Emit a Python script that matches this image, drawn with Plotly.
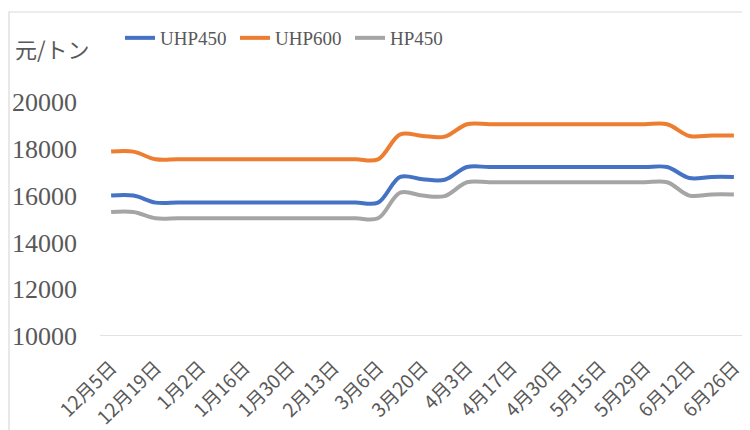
import plotly.graph_objects as go

dates = ["12月5日", "12月12日", "12月19日", "12月26日", "1月2日", "1月9日", "1月16日", "1月23日",
         "1月30日", "2月6日", "2月13日", "2月27日", "3月6日", "3月13日", "3月20日", "3月27日",
         "4月3日", "4月10日", "4月17日", "4月24日", "4月30日", "5月8日", "5月15日", "5月22日",
         "5月29日", "6月5日", "6月12日", "6月19日", "6月26日"]

uhp450 = [16000, 16000, 15700, 15700, 15700, 15700, 15700, 15700, 15700, 15700, 15700, 15700, 15700,
          16800, 16700, 16680, 17220, 17220, 17220, 17220, 17220, 17220, 17220, 17220, 17220, 17220,
          16750, 16800, 16800]
uhp600 = [17880, 17880, 17550, 17550, 17550, 17550, 17550, 17550, 17550, 17550, 17550, 17550, 17550,
          18620, 18550, 18520, 19050, 19050, 19050, 19050, 19050, 19050, 19050, 19050, 19050, 19050,
          18550, 18570, 18570]
hp450 = [15300, 15300, 15030, 15030, 15030, 15030, 15030, 15030, 15030, 15030, 15030, 15030, 15030,
         16130, 16000, 15980, 16570, 16570, 16570, 16570, 16570, 16570, 16570, 16570, 16570, 16570,
         16000, 16050, 16050]

tick_labels = dates[::2]
y_ticks = [10000, 12000, 14000, 16000, 18000, 20000]
y_tick_text = ["10000", "12000", "14000", "16000", "18000", "20000"]

series = [("UHP450", uhp450, "#4472C4"), ("UHP600", uhp600, "#ED7D31"), ("HP450", hp450, "#A5A5A5")]

fig = go.Figure()
for name, vals, color in series:
    fig.add_trace(go.Scatter(x=dates, y=vals, name=name, mode="lines",
                             line=dict(color=color, width=4, shape="spline", smoothing=1.0)))

# page body has an 8px margin: the figure sits at (8, 8) in the 750x430 window
OFF = 8
W, H = 750 - OFF, 430 - OFF
PL, PR, PT, PB = 100, 745, 102, 336  # plot area in window pixels
L, R, T, B = PL - OFF, 750 - PR, PT - OFF, 430 - PB
pw, ph = PR - PL, PB - PT

def px_x(p):
    return (p - PL) / pw

def px_y(p):
    return (PB - p) / ph

fig.update_layout(
    width=W, height=H,
    margin=dict(l=L, r=R, t=T, b=B, autoexpand=False),
    paper_bgcolor="white", plot_bgcolor="white",
    showlegend=True,
    legend=dict(orientation="h", x=px_x(120), y=px_y(38), xanchor="left", yanchor="middle",
                font=dict(family="Liberation Serif", size=19, color="#595959"),
                bgcolor="rgba(0,0,0,0)", itemwidth=30, entrywidth=70, tracegroupgap=0),
    xaxis=dict(type="category", categoryorder="array", categoryarray=dates,
               range=[-0.5, len(dates) - 0.5], automargin=False,
               tickmode="array", tickvals=tick_labels, ticktext=tick_labels,
               tickangle=-45, showgrid=False, zeroline=False,
               showline=False, ticks="outside", ticklen=12, tickcolor="rgba(0,0,0,0)",
               tickfont=dict(family="Noto Sans CJK JP", size=19, color="#595959")),
    yaxis=dict(range=[10000, 20000], tickvals=y_ticks, ticktext=y_tick_text,
               showgrid=False, zeroline=False, automargin=False,
               showline=False, ticks="", ticklabelstandoff=22,
               tickfont=dict(family="Liberation Serif", size=26, color="#595959")),
    shapes=[
        dict(type="line", xref="paper", yref="y", x0=0, x1=1, y0=10000, y1=10000,
             line=dict(color="#D9D9D9", width=1.5)),
        dict(type="rect", xref="paper", yref="paper", x0=px_x(9), x1=px_x(749),
             y0=px_y(445), y1=px_y(12), line=dict(color="#D9D9D9", width=1.2),
             fillcolor="rgba(0,0,0,0)", layer="below"),
    ],
    annotations=[
        dict(text="元/トン", xref="paper", yref="paper", x=px_x(13), y=px_y(48),
             xanchor="left", yanchor="middle", showarrow=False,
             font=dict(family="Noto Sans CJK JP", size=22, color="#595959")),
    ],
)

fig.write_html("out.html")
